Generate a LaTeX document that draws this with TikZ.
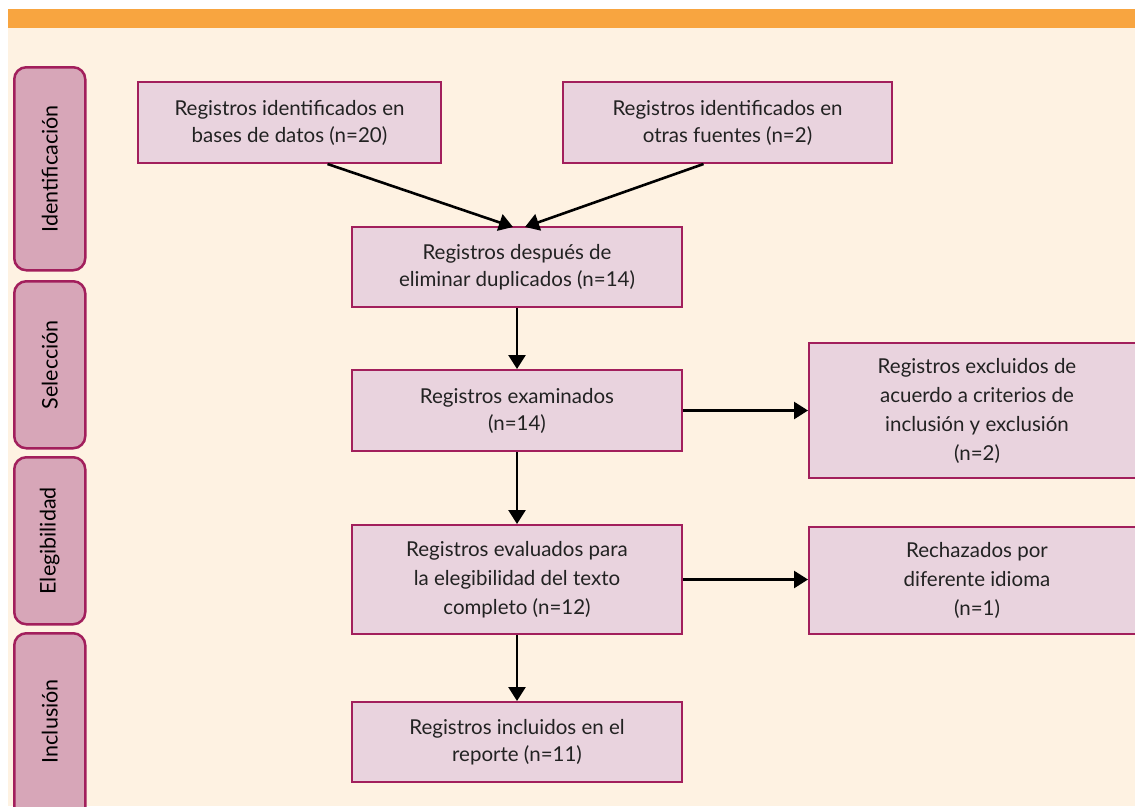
\documentclass[tikz,border=0pt]{standalone}
\usepackage{fontspec}
\setmainfont{Lato}
\usetikzlibrary{arrows.meta,positioning}
\definecolor{barorange}{HTML}{F8A540}
\definecolor{cream}{HTML}{FEF2E2}
\definecolor{sidefill}{HTML}{D7A6B8}
\definecolor{mainfill}{HTML}{E9D3DE}
\definecolor{edge}{HTML}{A21F5C}
\definecolor{txt}{HTML}{222222}
\tikzset{
  sidebox/.style={draw=edge, fill=sidefill, line width=2.5pt, rounded corners=12pt, anchor=north west, inner sep=0pt},
  mainbox/.style={draw=edge, fill=mainfill, line width=2pt, anchor=north west, inner sep=0pt},
  boxtext/.style={text=txt, align=center, font=\fontsize{20.5}{27}\selectfont},
  boxtextfour/.style={text=txt, align=center, font=\fontsize{20.5}{29}\selectfont},
  sidelabel/.style={rotate=90, text=black, font=\fontsize{21.5}{24}\selectfont},
  arr/.style={line width=2.6pt, -{Triangle[length=14pt,width=17pt]}},
}
\begin{document}
\begin{tikzpicture}[x=1pt,y=-1pt]
\useasboundingbox (0,0) rectangle (1135,806);
\clip (0,0) rectangle (1135,806);
\fill[white] (0,0) rectangle (1135,806);
\fill[cream] (8,28) rectangle (1135,806);
\fill[barorange] (8,9) rectangle (1135,28);

% side phase boxes
\node[sidebox, minimum width=71pt, minimum height=203pt] (s1) at (13,66) {};
\node[sidelabel] (l1) at (s1.center) {Identificación};
\node[sidebox, minimum width=71pt, minimum height=167pt] (s2) at (13,280) {};
\node[sidelabel] (l2) at (s2.center) {Selección};
\node[sidebox, minimum width=71pt, minimum height=167pt] (s3) at (13,456) {};
\node[sidelabel] (l3) at (s3.center) {Elegibilidad};
\node[sidebox, minimum width=71pt, minimum height=190pt] (s4) at (13,632) {};
\node[sidelabel] (l4) at ([yshift=7pt]s4.center) {Inclusión};

% main boxes
\node[mainbox, minimum width=303pt, minimum height=81pt] (b1) at (137,81) {};
\node[boxtext] (t1) at (b1.center) {Registros identificados en\\bases de datos (n=20)};
\node[mainbox, minimum width=329pt, minimum height=81pt] (b2) at (562,81) {};
\node[boxtext] (t2) at (b2.center) {Registros identificados en\\otras fuentes (n=2)};
\node[mainbox, minimum width=330pt, minimum height=80pt] (b3) at (351,226) {};
\node[boxtext] (t3) at (b3.center) {Registros después de\\eliminar duplicados (n=14)};
\node[mainbox, minimum width=330pt, minimum height=81pt] (b4) at (351,369) {};
\node[boxtext] (t4) at (b4.center) {Registros examinados\\(n=14)};
\node[mainbox, minimum width=338pt, minimum height=135pt] (b5) at (808,342) {};
\node[boxtextfour] (t5) at ([xshift=-1pt]b5.center) {Registros excluidos de\\acuerdo a criterios de\\inclusión y exclusión\\(n=2)};
\node[mainbox, minimum width=330pt, minimum height=109pt] (b6) at (351,524) {};
\node[boxtextfour] (t6) at (b6.center) {Registros evaluados para\\la elegibilidad del texto\\completo (n=12)};
\node[mainbox, minimum width=338pt, minimum height=107pt] (b7) at (808,526) {};
\node[boxtextfour] (t7) at ([xshift=-1pt]b7.center) {Rechazados por\\diferente idioma\\(n=1)};
\node[mainbox, minimum width=330pt, minimum height=80pt] (b8) at (351,701) {};
\node[boxtext] (t8) at (b8.center) {Registros incluidos en el\\reporte (n=11)};

% connectors
\draw[arr] ([xshift=38pt]b1.south) -- ([xshift=-4pt,yshift=-1pt]b3.north);
\draw[arr] ([xshift=-24pt]b2.south) -- ([xshift=8pt,yshift=-1pt]b3.north);
\draw[arr] (b3.south) -- (b4.north);
\draw[arr] (b4.south) -- (b6.north);
\draw[arr] (b6.south) -- (b8.north);
\draw[arr] (b4.east) -- (b5.west |- b4.east);
\draw[arr] (b6.east) -- (b7.west |- b6.east);
\end{tikzpicture}
\end{document}
